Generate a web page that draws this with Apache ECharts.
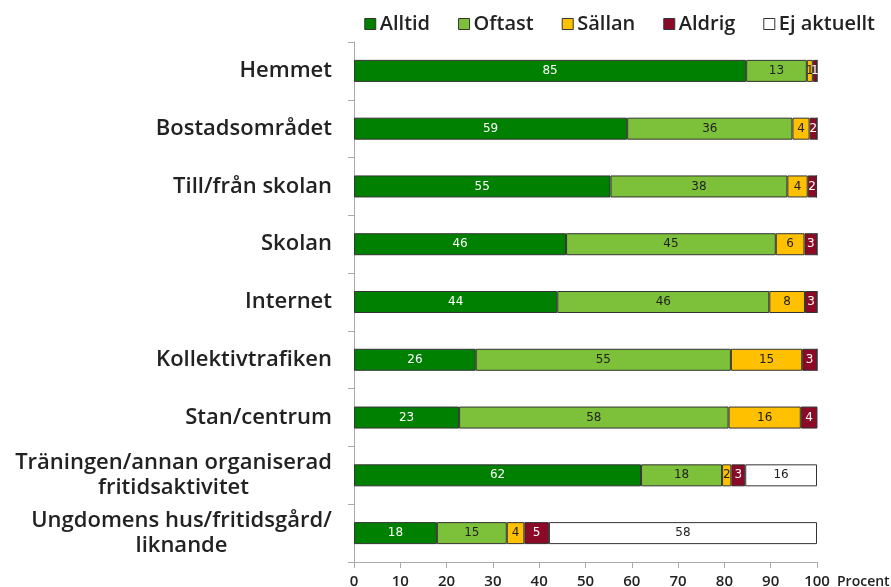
<!DOCTYPE html>
<html>
<head>
<meta charset="utf-8">
<script src="https://cdn.jsdelivr.net/npm/echarts@6/dist/echarts.min.js"></script>
<style>
  html, body { margin: 0; padding: 0; background: #fff; }
  #chart { width: 891px; height: 587px; }
</style>
</head>
<body>
<div id="chart"></div>
<script>
const categories = [
  "Hemmet",
  "Bostadsområdet",
  "Till/från skolan",
  "Skolan",
  "Internet",
  "Kollektivtrafiken",
  "Stan/centrum",
  "Träningen/annan organiserad\nfritidsaktivitet",
  "Ungdomens hus/fritidsgård/\nliknande",
]
const seriesNames = ["Alltid", "Oftast", "Sällan", "Aldrig", "Ej aktuellt"]
const alltid = [84.7, 59.0, 55.4, 45.8, 43.9, 26.3, 22.7, 62.0, 17.9]
const oftast = [13.1, 35.7, 38.2, 45.3, 45.8, 55.1, 58.2, 17.5, 15.1]
const sallan = [1.3, 3.7, 4.4, 6.2, 7.7, 15.4, 15.6, 2.0, 3.8]
const aldrig = [0.9, 1.6, 1.9, 2.7, 2.6, 3.2, 3.6, 3.0, 5.3]
const ejAktuellt = [0, 0, 0, 0, 0, 0, 0, 15.5, 57.9]
const xTicks = [0, 10, 20, 30, 40, 50, 60, 70, 80, 90, 100]

const colors = ["#008000", "#7DC13A", "#FFC000", "#8B0A26", "#FFFFFF"]
const labelColors = ["#fff", "#222", "#222", "#fff", "#222"]
const labelFont = "Open Sans"
const catSize = 22
const catWeight = 600

// measure widest line so multi-line labels can be centred inside their block
const ctx = document.createElement("canvas").getContext("2d")
ctx.font = catWeight + " " + catSize + "px " + labelFont
function blockWidth(value) {
  return Math.ceil(Math.max(...value.split("\n").map(l => ctx.measureText(l).width)))
}
function catLabel(value) {
  const lines = value.split("\n")
  if (lines.length === 1) return value
  const w = blockWidth(value)
  return lines.map(l => "{c" + w + "|" + l + "}").join("\n")
}
const rich = {}
categories.forEach(c => {
  if (c.indexOf("\n") >= 0) {
    const w = blockWidth(c)
    rich["c" + w] = { width: w, align: "center", fontSize: catSize, fontWeight: catWeight, lineHeight: 25, fontFamily: labelFont, color: "#222" }
  }
})

const data = [alltid, oftast, sallan, aldrig, ejAktuellt]
const chart = echarts.init(document.getElementById("chart"))
chart.setOption({
  animation: false,
  textStyle: { fontFamily: labelFont },
  legend: {
    data: seriesNames,
    top: 9,
    right: 11,
    itemWidth: 11,
    itemHeight: 11,
    itemGap: 28,
    icon: "rect",
    itemStyle: { borderColor: "#333", borderWidth: 1 },
    textStyle: { fontSize: 20, fontFamily: labelFont, fontWeight: 600, color: "#222", padding: [0, 0, 0, -1] },
  },
  grid: { left: 354, right: 74, top: 42, bottom: 25, containLabel: false, outerBoundsMode: "none" },
  xAxis: {
    type: "value",
    min: 0,
    max: 100,
    interval: 10,
    name: "Procent",
    nameLocation: "end",
    nameGap: 20,
    nameTextStyle: { fontSize: 14, fontWeight: 600, color: "#222", verticalAlign: "top", align: "left", padding: [13, 0, 0, 0] },
    axisLine: { show: true, lineStyle: { color: "#aaa", width: 1 } },
    axisTick: { show: true, length: 6, lineStyle: { color: "#aaa" } },
    splitLine: { show: false },
    axisLabel: {
      fontSize: 15,
      fontWeight: 600,
      color: "#222",
      margin: 12,
      formatter: v => (xTicks.includes(v) ? String(v) : ""),
    },
  },
  yAxis: {
    type: "category",
    inverse: true,
    data: categories,
    axisLine: { show: true, lineStyle: { color: "#aaa", width: 1 } },
    axisTick: { show: true, length: 6, lineStyle: { color: "#aaa" } },
    axisLabel: {
      fontSize: catSize,
      fontWeight: catWeight,
      color: "#222",
      margin: 22,
      lineHeight: 25,
      formatter: catLabel,
      rich: rich,
    },
  },
  series: seriesNames.map((name, i) => ({
    name: name,
    type: "bar",
    stack: "total",
    barWidth: 22,
    data: data[i],
    itemStyle: { color: colors[i], borderColor: "#333", borderWidth: 1 },
    label: {
      show: true,
      position: "inside",
      fontSize: 12,
      fontFamily: "DejaVu Sans",
      color: labelColors[i],
      formatter: p => (p.value >= 0.5 ? String(Math.round(p.value)) : ""),
    },
  })),
})
</script>
</body>
</html>
